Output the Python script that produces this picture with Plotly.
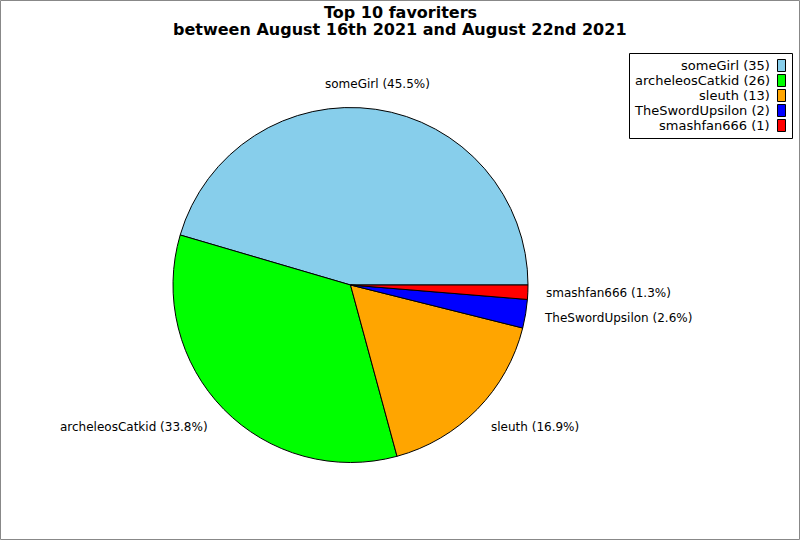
import math
import plotly.graph_objects as go

names = ["someGirl", "archeleosCatkid", "sleuth", "TheSwordUpsilon", "smashfan666"]
counts = [35, 26, 13, 2, 1]
colors = ["#87CEEB", "#00FF00", "#FFA500", "#0000FF", "#FF0000"]
title_lines = ["Top 10 favoriters", "between August 16th 2021 and August 22nd 2021"]

W, H = 800, 540
cx, cy, R = 350.5, 285, 177.5  # pie centre / radius in pixels (from top-left)
FONT = "DejaVu Sans"
total = sum(counts)

fig = go.Figure()
# plotly ccw: first slice ends at `rotation`; make it start at 3 o'clock instead
rot = 90 - 360 * counts[0] / total
fig.add_trace(go.Pie(
    labels=names, values=counts, sort=False, direction="counterclockwise",
    rotation=rot, textinfo="none", hoverinfo="label+value+percent",
    marker=dict(colors=colors, line=dict(color="black", width=1)),
    domain=dict(x=[(cx - R) / W, (cx + R) / W], y=[(H - cy - R) / H, (H - cy + R) / H]),
    showlegend=False,
))

annotations = []
shapes = []
cum = 0
for n, v in zip(names, counts):
    frac = v / total
    mid = (cum + frac / 2) * 2 * math.pi
    cum += frac
    lr = 195
    c = math.cos(mid)
    s = math.sin(mid)
    px = (cx - 1) + lr * c
    py = cy - lr * s
    if abs(c) < 0.3:
        xa = "center"
    else:
        xa = "left" if c > 0 else "right"
    yc = py - s * 8  # shift text box outward vertically by half its height
    annotations.append(dict(
        x=px / W, y=1 - yc / H, xref="paper", yref="paper", showarrow=False,
        text=f"{n} ({frac*100:.1f}%)", xanchor=xa, yanchor="middle",
        font=dict(family=FONT, size=12, color="black"),
    ))

# title (two lines)
for line, yc in zip(title_lines, [12.5, 29.5]):
    annotations.append(dict(
        x=400 / W, y=1 - yc / H, xref="paper", yref="paper", showarrow=False,
        text="<b>" + line + "</b>", xanchor="center", yanchor="middle",
        font=dict(family=FONT, size=16, color="black"),
    ))

# legend (text right-aligned, swatch to its right)
lx0, ly0, lx1, ly1 = 629.5, 53.5, 792.5, 138.5
shapes.append(dict(type="rect", xref="paper", yref="paper",
                   x0=lx0 / W, x1=lx1 / W, y0=1 - ly0 / H, y1=1 - ly1 / H,
                   line=dict(color="black", width=1), fillcolor="white"))
for i, (n, v, col) in enumerate(zip(names, counts, colors)):
    yc = 65.5 + i * 15
    annotations.append(dict(
        x=772 / W, y=1 - yc / H, xref="paper", yref="paper", showarrow=False,
        text=f"{n} ({v})", xanchor="right", yanchor="middle",
        font=dict(family=FONT, size=13, color="black"),
    ))
    shapes.append(dict(type="rect", xref="paper", yref="paper",
                       x0=777.5 / W, x1=785.5 / W, y0=1 - (yc - 6) / H, y1=1 - (yc + 6) / H,
                       line=dict(color="black", width=1), fillcolor=col))

# outer border
shapes.append(dict(type="rect", xref="paper", yref="paper",
                   x0=0.5 / W, x1=(W - 0.5) / W, y0=0.5 / H, y1=(H - 0.5) / H,
                   line=dict(color="#888888", width=1), fillcolor="rgba(0,0,0,0)"))

fig.update_layout(
    width=W, height=H, margin=dict(l=0, r=0, t=0, b=0),
    paper_bgcolor="white", plot_bgcolor="white",
    annotations=annotations, shapes=shapes,
    font=dict(family=FONT),
)
fig.write_html("out.html", config={"displayModeBar": False},
               post_script="document.body.style.margin='0';")
